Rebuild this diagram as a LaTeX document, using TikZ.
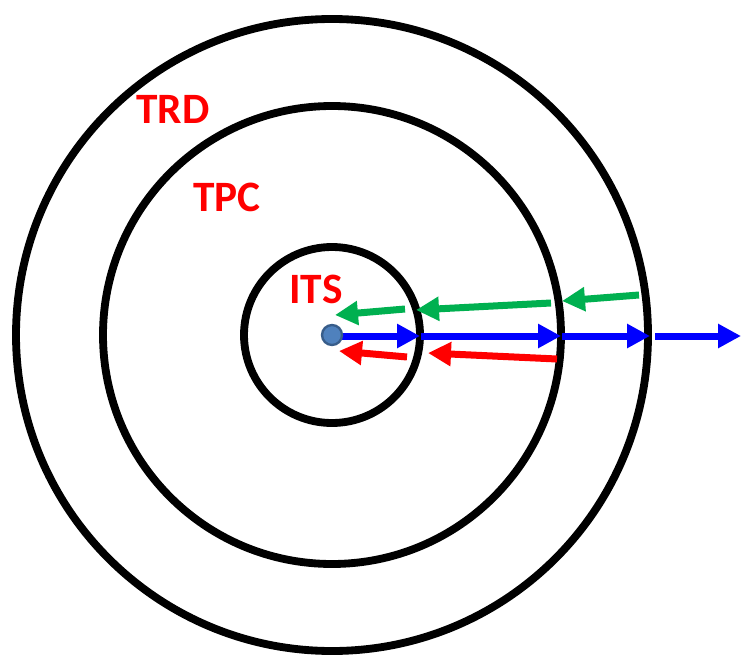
\documentclass[tikz,border=0pt]{standalone}
\usepackage{fontspec}
\newfontfamily\detfont{Carlito}
\usepackage{tikz}
\usetikzlibrary{arrows.meta}
\definecolor{trkgreen}{HTML}{00B050}
\definecolor{dotblue}{HTML}{4F81BD}
\definecolor{dotedge}{HTML}{385D8A}
\tikzstyle{layer}=[draw=black,line width=0.235cm]
\tikzstyle{detlabel}=[text=red,font=\detfont\bfseries\fontsize{37}{40}\selectfont,inner sep=0pt]
\tikzstyle{trk}=[line width=0.21cm,-{Triangle[length=0.69cm,width=0.69cm]}]

\begin{document}
\begin{tikzpicture}[line join=round,x=0.03cm,y=-0.03cm]
\useasboundingbox (0,0) rectangle (741,654);
% detector layers
\draw [layer] (332,335) circle (88);
\draw [layer] (332,335) circle (229);
\draw [layer] (332,335) circle (316);
\node [detlabel] (trd) at (173,109) {TRD};
\node [detlabel] (tpc) at (227,197) {TPC};
\node [detlabel] (its) at (316,289) {ITS};
% track points
\coordinate (b0) at (340,336);
\coordinate (b1) at (420,336);
\coordinate (b1s) at (421,336);
\coordinate (b2) at (561,336);
\coordinate (b2s) at (562,336);
\coordinate (b3) at (650,336);
\coordinate (b3s) at (655,336);
\coordinate (b4) at (741,336);
\coordinate (g0) at (639,295);
\coordinate (g1) at (562,301);
\coordinate (g1s) at (551,303);
\coordinate (g2) at (416,310);
\coordinate (g2s) at (405,309);
\coordinate (g3) at (335,315);
\coordinate (r0) at (557,359);
\coordinate (r1) at (428,353);
\coordinate (r1s) at (407,357);
\coordinate (r2) at (339,351);
% outgoing track
\draw [trk,blue] (b0)-- (b1);
\draw [trk,blue] (b1s)-- (b2);
\draw [trk,blue] (b2s)-- (b3);
\draw [trk,blue] (b3s)-- (b4);
% back-propagation
\draw [trk,trkgreen] (g0)-- (g1);
\draw [trk,trkgreen] (g1s)-- (g2);
\draw [trk,trkgreen] (g2s)-- (g3);
\draw [trk,red] (r0)-- (r1);
\draw [trk,red] (r1s)-- (r2);
% vertex
\node [circle,fill=dotblue,draw=dotedge,line width=2pt,minimum size=0.6cm,inner sep=0pt] (vtx) at (332,335) {};
\end{tikzpicture}
\end{document}
